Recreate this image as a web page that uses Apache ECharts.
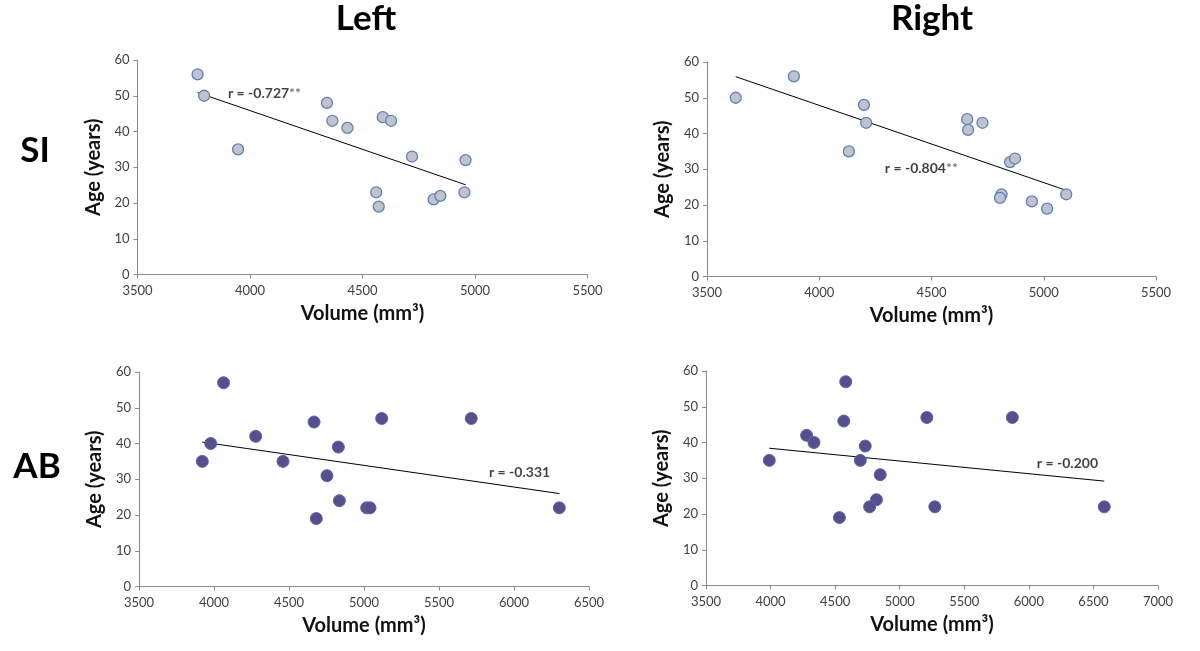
<!DOCTYPE html>
<html>
<head>
<meta charset="utf-8">
<script src="https://cdn.jsdelivr.net/npm/echarts@6/dist/echarts.min.js"></script>
<style>
  html, body { margin: 0; padding: 0; background: #ffffff; }
  #chart { width: 1200px; height: 651px; }
</style>
</head>
<body>
<div id="chart"></div>
<script>
// ---- Data ----
const siLeftVol  = [3767, 3796, 3947, 4342, 4366, 4433, 4590, 4627, 4720, 4958, 4561, 4572, 4816, 4846, 4953];
const siLeftAge  = [56, 50, 35, 48, 43, 41, 44, 43, 33, 32, 23, 19, 21, 22, 23];
const siRightVol = [3628, 3887, 4132, 4199, 4209, 4659, 4663, 4727, 4850, 4872, 4812, 4805, 4947, 5015, 5100];
const siRightAge = [50, 56, 35, 48, 43, 44, 41, 43, 32, 33, 23, 22, 21, 19, 23];
const abLeftVol  = [3922, 3978, 4064, 4278, 4460, 4667, 4682, 4753, 4829, 4836, 5018, 5040, 5118, 5715, 6302];
const abLeftAge  = [35, 40, 57, 42, 35, 46, 19, 31, 39, 24, 22, 22, 47, 47, 22];
const abRightVol = [3990, 4279, 4336, 4582, 4567, 4533, 4695, 4733, 4849, 4820, 4767, 5210, 5272, 5872, 6584];
const abRightAge = [35, 42, 40, 57, 46, 19, 35, 39, 31, 24, 22, 47, 22, 47, 22];

// Trend line end points [x0, x1] / [y0, y1]
const siLeftTrendX  = [3767, 4958]; const siLeftTrendY  = [50.9, 25.1];
const siRightTrendX = [3628, 5100]; const siRightTrendY = [55.9, 24.1];
const abLeftTrendX  = [3922, 6302]; const abLeftTrendY  = [40.4, 26.0];
const abRightTrendX = [3990, 6584]; const abRightTrendY = [38.4, 29.2];

// Correlation labels and their anchors (data coordinates)
const rLabels = ['r = -0.727', 'r = -0.804', 'r = -0.331', 'r = -0.200'];
const rStars  = ['**', '**', '', ''];
const rAnchorX = [3902, 4292, 5833, 6062];
const rAnchorY = [50.6, 30.1, 31.9, 34.0];

// Axis ranges / ticks
const xMins = [3500, 3500, 3500, 3500];
const xMaxs = [5500, 5500, 6500, 7000];
const xInterval = 500;
const yMin = 0, yMax = 60, yInterval = 10;

const colTitles = ['Left', 'Right'];
const rowTitles = ['SI', 'AB'];
const xAxisTitle = 'Volume (mm³)';
const yAxisTitle = 'Age (years)';

// ---- Build chart ----
const FONT = 'Lato, "Open Sans", sans-serif';
const grids = [
  { left: 137.5, top: 60,  width: 450, height: 214.5 },
  { left: 707,   top: 62,  width: 449, height: 214.5 },
  { left: 139,   top: 372, width: 450, height: 214.5 },
  { left: 706,   top: 371, width: 452, height: 214.5 }
];
const vols = [siLeftVol, siRightVol, abLeftVol, abRightVol];
const ages = [siLeftAge, siRightAge, abLeftAge, abRightAge];
const trX = [siLeftTrendX, siRightTrendX, abLeftTrendX, abRightTrendX];
const trY = [siLeftTrendY, siRightTrendY, abLeftTrendY, abRightTrendY];

const markerStyles = [
  { size: 11, color: '#c0c3c9', border: '#5a80bd', bw: 1.3 },
  { size: 11, color: '#c0c3c9', border: '#5a80bd', bw: 1.3 },
  { size: 12, color: '#584d8d', border: '#5668ad', bw: 1 },
  { size: 12, color: '#584d8d', border: '#5668ad', bw: 1 }
];

const xAxes = [], yAxes = [], series = [];
for (let i = 0; i < 4; i++) {
  xAxes.push({
    gridIndex: i, type: 'value', min: xMins[i], max: xMaxs[i], interval: xInterval,
    name: xAxisTitle, nameLocation: 'middle', nameGap: 29,
    nameTextStyle: { fontFamily: FONT, fontWeight: 'bold', fontSize: 20, color: '#111' },
    axisLine: { show: true, onZero: false, lineStyle: { color: '#8a8a8a', width: 1 } },
    axisTick: { show: true, length: 4, lineStyle: { color: '#8a8a8a' } },
    axisLabel: { fontFamily: FONT, fontSize: 13, color: '#404040', margin: 10, formatter: v => String(v) },
    splitLine: { show: false }
  });
  yAxes.push({
    gridIndex: i, type: 'value', min: yMin, max: yMax, interval: yInterval,
    name: yAxisTitle, nameLocation: 'middle', nameGap: 34,
    nameTextStyle: { fontFamily: FONT, fontWeight: 'bold', fontSize: 20, color: '#111' },
    axisLine: { show: true, onZero: false, lineStyle: { color: '#8a8a8a', width: 1 } },
    axisTick: { show: true, length: 4, lineStyle: { color: '#8a8a8a' } },
    axisLabel: { fontFamily: FONT, fontSize: 13, color: '#404040', margin: 8, formatter: v => String(v) },
    splitLine: { show: false }
  });
  const ms = markerStyles[i];
  series.push({
    type: 'line', xAxisIndex: i, yAxisIndex: i,
    data: trX[i].map((x, k) => [x, trY[i][k]]),
    symbol: 'none', lineStyle: { color: '#000', width: 1 }, silent: true, z: 2
  });
  series.push({
    type: 'scatter', xAxisIndex: i, yAxisIndex: i,
    data: vols[i].map((v, k) => [v, ages[i][k]]),
    symbol: 'circle', symbolSize: ms.size,
    itemStyle: { color: ms.color, borderColor: ms.border, borderWidth: ms.bw, opacity: 1 },
    z: 3
  });
  series.push({
    type: 'scatter', xAxisIndex: i, yAxisIndex: i,
    data: [[rAnchorX[i], rAnchorY[i]]],
    symbolSize: 0, silent: true, z: 4,
    label: {
      show: true, position: 'right', distance: 0,
      formatter: '{a|' + rLabels[i] + '}' + (rStars[i] ? '{b|' + rStars[i] + '}' : ''),
      rich: {
        a: { fontFamily: FONT, fontWeight: 'bold', fontSize: 14, color: '#111' },
        b: { fontFamily: FONT, fontWeight: 'normal', fontSize: 14, color: '#333' }
      }
    }
  });
}

const graphics = [
  { type: 'text', style: { text: colTitles[0], x: 366, y: 19, align: 'center', verticalAlign: 'middle', font: 'bold 35px ' + FONT, fill: '#000' } },
  { type: 'text', style: { text: colTitles[1], x: 932, y: 19, align: 'center', verticalAlign: 'middle', font: 'bold 35px ' + FONT, fill: '#000' } },
  { type: 'text', style: { text: rowTitles[0], x: 35, y: 151, align: 'center', verticalAlign: 'middle', font: 'bold 35px ' + FONT, fill: '#000' } },
  { type: 'text', style: { text: rowTitles[1], x: 37, y: 467, align: 'center', verticalAlign: 'middle', font: 'bold 35px ' + FONT, fill: '#000' } }
];

const chart = echarts.init(document.getElementById('chart'), null, { renderer: 'canvas' });
chart.setOption({
  backgroundColor: '#ffffff',
  animation: false,
  grid: grids,
  xAxis: xAxes,
  yAxis: yAxes,
  series: series,
  graphic: graphics
});
</script>
</body>
</html>
